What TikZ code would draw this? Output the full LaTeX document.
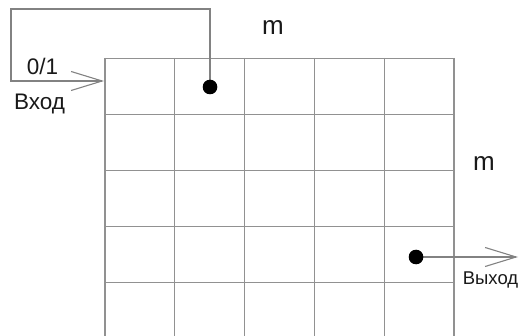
\documentclass[tikz,border=0pt]{standalone}
\usepackage{fontspec}
\setmainfont{Liberation Sans}
\usetikzlibrary{arrows.meta}

\definecolor{gridgray}{RGB}{145,145,145}
\definecolor{wiregray}{RGB}{130,130,130}
\definecolor{inktext}{RGB}{25,25,25}

\tikzset{
  cellline/.style={draw=gridgray, line width=1.2pt},
  wire/.style={draw=wiregray, line width=1.1pt},
  barbtip/.style={-{Straight Barb[length=31pt,width=19pt,line width=1.1pt]}},
  cellmark/.style={circle, fill=black, inner sep=0pt, minimum size=14pt},
  lbl/.style={anchor=base, inner sep=0pt, text=inktext},
}

\begin{document}
\begin{tikzpicture}[x=1pt, y=-1pt]
  \useasboundingbox (0,0) rectangle (521,336);

  % 5 x 5 cell field, bottom row runs off the lower edge
  \foreach \c in {0,...,5}
    \draw[cellline] (105+69.8*\c,58) -- (105+69.8*\c,336);
  \foreach \r in {0,...,4}
    \draw[cellline] (105,58.4+56.1*\r) -- (454,58.4+56.1*\r);

  % anchor points of the connectors
  \coordinate (loopcorner) at (11,9);
  \coordinate (entry) at (104,81);
  \coordinate (exit) at (518,257);

  % input and output cells
  \node[cellmark] (din) at (210,87) {};
  \node[cellmark] (dout) at (416,257) {};

  % feedback loop into the first cell
  \draw[wire, barbtip] (din.center) |- (loopcorner) |- (entry);
  % output arrow
  \draw[wire, barbtip] (dout.center) -- (exit);

  % redraw marks on top of the wires
  \fill (din) circle (7.3pt);
  \fill (dout) circle (7.3pt);

  % labels
  \node[lbl, font=\fontsize{22.5}{26}\selectfont] (bit) at (42.5,75) {0/1};
  \node[lbl, font=\fontsize{22.5}{26}\selectfont] (inlbl) at (39.5,110) {Вход};
  \node[lbl, font=\fontsize{18.5}{21}\selectfont] (outlbl) at (490.5,284) {Выход};
  \node[lbl, font=\fontsize{26}{29}\selectfont] (mtop) at (273,35) {m};
  \node[lbl, font=\fontsize{26}{29}\selectfont] (mright) at (484,171) {m};
\end{tikzpicture}
\end{document}
